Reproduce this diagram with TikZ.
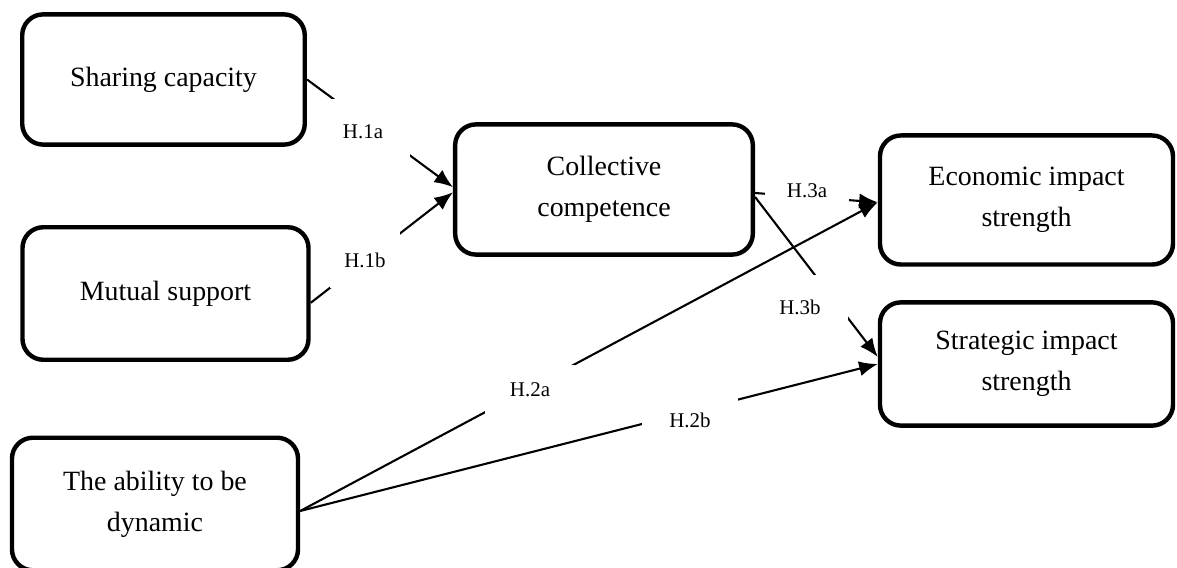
\documentclass[tikz,border=0pt]{standalone}
\usepackage{fontspec}
\setmainfont{Liberation Serif}
\usepackage{tikz}
\usetikzlibrary{arrows.meta}
\tikzstyle{construct}=[draw, line width=1.9pt, rounded corners=9pt, align=center, minimum width=123pt, minimum height=57pt, inner sep=0pt, font=\fontsize{12}{17.5}\selectfont]
\tikzstyle{hyp}=[fill=white, inner sep=0pt, font=\fontsize{9}{11}\selectfont]
\tikzstyle{link}=[line width=0.9pt, -{Latex[length=8pt,width=6.5pt]}]

\begin{document}
\begin{tikzpicture}[x=0.43pt,y=-0.43pt]
%\draw[help lines] (0,0) grid (1177,568);
\useasboundingbox (0,0) rectangle (1177,568);
\node[construct, minimum width=121.5pt, minimum height=56pt] (share) at (163.5,79.5) {Sharing capacity};
\node[construct] (mut) at (165.5,293.5) {Mutual support};
\node[construct] (abil) at (155,504) {The ability to be\\dynamic};
\node[construct, minimum width=128pt, minimum height=56pt] (coll) at (604,189.5) {Collective\\competence};
\node[construct, minimum width=126pt, minimum height=55.5pt] (econ) at (1026.5,200) {Economic impact\\strength};
\node[construct, minimum width=126pt, minimum height=53pt] (strat) at (1026.5,364) {Strategic impact\\strength};

\draw[link] (share.east) -- ([yshift=1pt]coll.west);
\draw[link] ([yshift=-4pt]mut.east) -- ([yshift=-1.2pt]coll.west);
\draw[link] ([yshift=-1.5pt]coll.east) -- ([yshift=-1pt]econ.west);
\draw[link] ([yshift=-3.2pt]coll.east) -- ([yshift=3pt]strat.west);
\draw[link] ([yshift=-3pt]abil.east) -- ([yshift=-1pt]econ.west);
\draw[link] ([yshift=-3pt]abil.east) -- (strat.west);

% hypothesis labels (white boxes break the lines)
\node[hyp, minimum width=40.4pt, minimum height=28.4pt] (h1a) at (363,132) {H.1a};
\node[hyp, minimum width=30pt, minimum height=24pt] (h1b) at (365,260) {H.1b};
\node[hyp, minimum width=36.5pt, minimum height=9.5pt] (h3a) at (807,191) {H.3a};
\node[hyp, minimum width=41.3pt, minimum height=27.5pt] (h3b) at (800,307) {H.3b};
\node[hyp, minimum width=38.7pt, minimum height=21.5pt] (h2a) at (530,390) {H.2a};
\node[hyp, minimum width=41.3pt, minimum height=19.8pt] (h2b) at (690,420) {H.2b};
\end{tikzpicture}
\end{document}
